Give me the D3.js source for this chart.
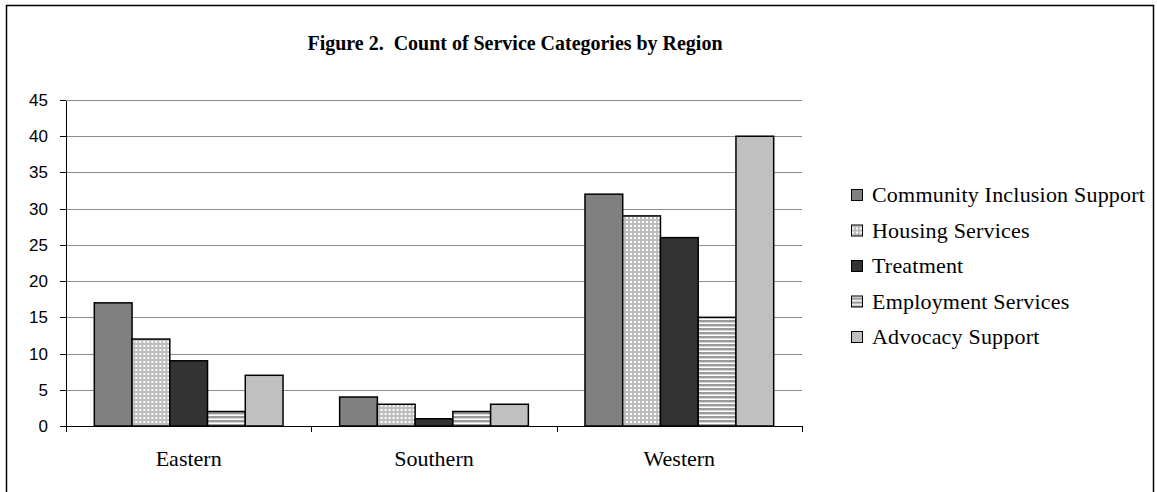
<!DOCTYPE html>
<meta charset="utf-8">
<style>
body { margin: 0; background: #fff; }
.grid line { stroke: #8c8c8c; stroke-width: 1px; shape-rendering: crispEdges; }
.grid path { display: none; }
.yaxis text { font-family: "Liberation Sans", Arial, sans-serif; font-size: 17px; fill: #000; }
.yaxis line, .yaxis path { stroke: #000; shape-rendering: crispEdges; }
.xlabel, .legend text { font-family: "Liberation Serif", "Times New Roman", serif; font-size: 22px; fill: #000; }
.legend text { letter-spacing: 0.2px; }
</style>
<body>
<script src="https://d3js.org/d3.v7.min.js"></script>
<script>

// chart data
var regions = ["Eastern", "Southern", "Western"];
var services = ["Community Inclusion Support", "Housing Services", "Treatment", "Employment Services", "Advocacy Support"];
var communityInclusion = [17, 4, 32];
var housing = [12, 3, 29];
var treatment = [9, 1, 26];
var employment = [2, 2, 15];
var advocacy = [7, 3, 40];
var yTicks = [0, 5, 10, 15, 20, 25, 30, 35, 40, 45];

var seriesValues = [communityInclusion, housing, treatment, employment, advocacy];

var width = 1157, height = 492;
var plot = {left: 66, right: 802, top: 100, bottom: 426};

var svg = d3.select("body").append("svg")
    .attr("width", width)
    .attr("height", height);

// fill patterns
var defs = svg.append("defs");

var hatch = defs.append("pattern")
    .attr("id", "hatch")
    .attr("patternUnits", "userSpaceOnUse")
    .attr("width", 4).attr("height", 4);
hatch.append("rect").attr("width", 4).attr("height", 4).attr("fill", "#bdbdbd");
hatch.append("rect").attr("x", 1).attr("y", 1).attr("width", 2).attr("height", 2).attr("fill", "#fff");

var stripes = defs.append("pattern")
    .attr("id", "stripes")
    .attr("patternUnits", "userSpaceOnUse")
    .attr("width", 4).attr("height", 4);
stripes.append("rect").attr("width", 4).attr("height", 4).attr("fill", "#fff");
stripes.append("rect").attr("y", 0).attr("width", 4).attr("height", 2).attr("fill", "#9a9a9a");
stripes.append("rect").attr("y", 2).attr("width", 4).attr("height", 1).attr("fill", "#d4d4d4");

var fills = ["#808080", "url(#hatch)", "#333333", "url(#stripes)", "#c0c0c0"];

// outer frame
svg.append("rect")
    .attr("x", 6.5).attr("y", 5.5)
    .attr("width", 1147).attr("height", 520)
    .attr("fill", "none")
    .attr("stroke", "#000")
    .attr("stroke-width", 1.5);

// title
svg.append("text")
    .attr("x", 515)
    .attr("y", 50)
    .attr("text-anchor", "middle")
    .attr("textLength", 415)
    .attr("lengthAdjust", "spacingAndGlyphs")
    .style("white-space", "pre")
    .style("font-family", "'Liberation Serif', 'Times New Roman', serif")
    .style("font-weight", "bold")
    .style("font-size", "22px")
    .text("Figure 2.  Count of Service Categories by Region");

// scales
var y = d3.scaleLinear().domain([0, 45]).range([plot.bottom, plot.top]);

var x0 = d3.scaleBand()
    .domain(regions)
    .range([plot.left, plot.right])
    .paddingInner(1.5 / 6.5)
    .paddingOuter(0.75 / 6.5);

var x1 = d3.scaleBand()
    .domain(services)
    .range([0, x0.bandwidth()]);

// gridlines
svg.append("g")
    .attr("class", "grid")
    .attr("transform", "translate(" + plot.left + ",0)")
    .call(d3.axisLeft(y).tickValues(yTicks.slice(1)).tickSize(-(plot.right - plot.left)).tickFormat(""));

// bars
var groups = svg.selectAll(".region")
    .data(regions)
  .enter().append("g")
    .attr("class", "region")
    .attr("transform", function(d) { return "translate(" + x0(d) + ",0)"; });

groups.selectAll("rect")
    .data(function(d, i) {
      return services.map(function(s, j) { return {service: s, value: seriesValues[j][i], k: j}; });
    })
  .enter().append("rect")
    .attr("x", function(d) { return x1(d.service); })
    .attr("y", function(d) { return y(d.value); })
    .attr("width", x1.bandwidth())
    .attr("height", function(d) { return y(0) - y(d.value); })
    .attr("fill", function(d) { return fills[d.k]; })
    .attr("stroke", "#000")
    .attr("stroke-width", 1.5);

// y axis
svg.append("g")
    .attr("class", "yaxis")
    .attr("transform", "translate(" + plot.left + ",0)")
    .call(d3.axisLeft(y).tickValues(yTicks).tickSize(6).tickPadding(12).tickSizeOuter(0));

// x axis line and category ticks
var boundaries = d3.range(regions.length + 1).map(function(i) { return plot.left + i * x0.step(); });

svg.append("line")
    .attr("x1", plot.left).attr("x2", plot.right)
    .attr("y1", y(0) + 0.5).attr("y2", y(0) + 0.5)
    .attr("stroke", "#000");

svg.selectAll(".xtick")
    .data(boundaries)
  .enter().append("line")
    .attr("class", "xtick")
    .attr("x1", function(d) { return Math.round(d) + 0.5; })
    .attr("x2", function(d) { return Math.round(d) + 0.5; })
    .attr("y1", y(0))
    .attr("y2", y(0) + 6)
    .attr("stroke", "#000");

svg.selectAll(".xlabel")
    .data(regions)
  .enter().append("text")
    .attr("class", "xlabel")
    .attr("x", function(d) { return x0(d) + x0.bandwidth() / 2; })
    .attr("y", 466)
    .attr("text-anchor", "middle")
    .text(function(d) { return d; });

// legend
var legend = svg.append("g")
    .attr("class", "legend")
    .selectAll("g")
    .data(services)
  .enter().append("g")
    .attr("transform", function(d, i) { return "translate(851," + (195 + i * 35.5) + ")"; });

legend.append("rect")
    .attr("x", 0.5).attr("y", -5.5)
    .attr("width", 11).attr("height", 11)
    .attr("fill", function(d, i) { return fills[i]; })
    .attr("stroke", "#000");

legend.append("text")
    .attr("x", 21)
    .attr("y", 7)
    .text(function(d) { return d; });

</script>
</body>
